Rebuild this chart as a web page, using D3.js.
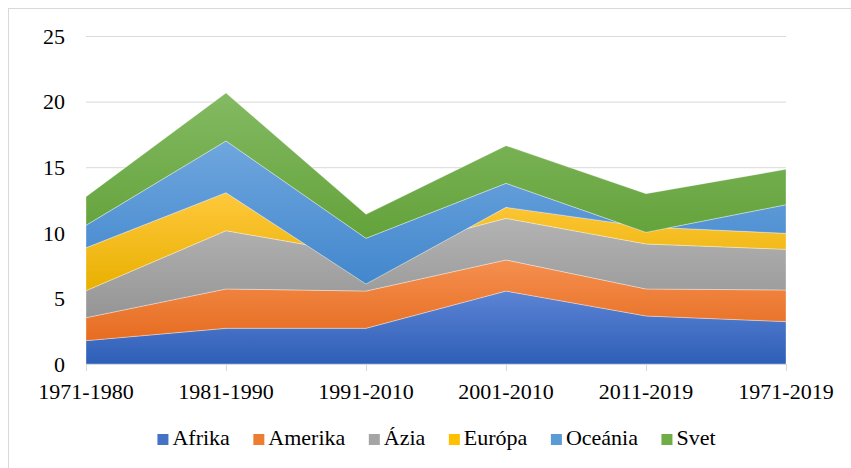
<!DOCTYPE html>
<html>
<head>
<meta charset="utf-8">
<script src="https://cdn.jsdelivr.net/npm/d3@7"></script>
<style>
    html, body { margin: 0; padding: 0; background: #fff; }
    svg { display: block; }
</style>
</head>
<body>
<svg id="chart" width="851" height="468" font-family="Liberation Serif"></svg>
<script>
const categories = ['1971-1980', '1981-1990', '1991-2010', '2001-2010', '2011-2019', '1971-2019'];
const seriesNames = ['Afrika', 'Amerika', 'Ázia', 'Európa', 'Oceánia', 'Svet'];

const afrika = [1.78, 2.72, 2.72, 5.56, 3.66, 3.23];
const amerika = [1.75, 3.00, 2.84, 2.37, 2.06, 2.41];
const azia = [2.06, 4.44, 2.74, 3.17, 3.43, 3.10];
const europa = [3.27, 2.90, -2.20, 0.84, 1.30, 1.22];
const oceania = [1.71, 3.94, 3.48, 1.83, -0.41, 2.18];
const svet = [2.18, 3.66, 1.83, 2.87, 2.94, 2.70];

const yTicks = [0, 5, 10, 15, 20, 25];

// gradient colours per series: [top, bottom]
const colors = [
    ['#5c84d4', '#2e5eb7'],
    ['#f58f4f', '#e66c20'],
    ['#b3b3b3', '#959595'],
    ['#ffc83c', '#e8b000'],
    ['#6fa6de', '#4287cd'],
    ['#84ba63', '#63a23a'],
];
const swatch = ['#4472c4', '#ed7d31', '#a5a5a5', '#ffc000', '#5b9bd5', '#70ad47'];
const FONT = 'Liberation Serif';

const values = [afrika, amerika, azia, europa, oceania, svet];
const table = categories.map((cat, i) => {
    const row = { cat };
    seriesNames.forEach((name, s) => { row[name] = values[s][i]; });
    return row;
});

const svg = d3.select('#chart');

svg.append('rect')
    .attr('x', 8.5).attr('y', 8.5)
    .attr('width', 850).attr('height', 470)
    .attr('fill', '#fff')
    .attr('stroke', '#d9d9d9');

const x = d3.scalePoint().domain(categories).range([86, 786]);
const y = d3.scaleLinear().domain([0, 25]).range([364, 36]);

// gridlines
svg.append('g')
    .selectAll('line')
    .data(yTicks.filter((t) => t > 0))
    .enter()
    .append('line')
    .attr('x1', 86).attr('x2', 786)
    .attr('y1', (d) => y(d) + 0.5).attr('y2', (d) => y(d) + 0.5)
    .attr('stroke', '#d9d9d9');

const defs = svg.append('defs');
colors.forEach(([top, bottom], i) => {
    const grad = defs.append('linearGradient')
        .attr('id', `grad${i}`)
        .attr('x1', 0).attr('y1', 0).attr('x2', 0).attr('y2', 1);
    grad.append('stop').attr('offset', '0%').attr('stop-color', top);
    grad.append('stop').attr('offset', '100%').attr('stop-color', bottom);
});

const stack = d3.stack().keys(seriesNames).offset(d3.stackOffsetNone);
const layers = stack(table);

const area = d3.area()
    .x((d) => x(d.data.cat))
    .y0((d) => y(d[0]))
    .y1((d) => y(d[1]));

svg.append('g')
    .selectAll('path')
    .data(layers)
    .enter()
    .append('path')
    .attr('d', area)
    .attr('fill', (d, i) => `url(#grad${i})`)
    .attr('stroke', '#fff')
    .attr('stroke-opacity', 0.45)
    .attr('stroke-width', 0.75);

// x axis line and ticks
svg.append('line')
    .attr('x1', 86).attr('x2', 786)
    .attr('y1', 364.5).attr('y2', 364.5)
    .attr('stroke', '#d9d9d9');

svg.append('g')
    .selectAll('line')
    .data(categories)
    .enter()
    .append('line')
    .attr('x1', (d) => x(d) + 0.5).attr('x2', (d) => x(d) + 0.5)
    .attr('y1', 364).attr('y2', 371)
    .attr('stroke', '#d9d9d9');

svg.append('g')
    .selectAll('text')
    .data(categories)
    .enter()
    .append('text')
    .attr('x', (d) => x(d))
    .attr('y', 399)
    .attr('text-anchor', 'middle')
    .attr('font-family', FONT)
    .attr('font-size', 22)
    .attr('fill', '#000')
    .text((d) => d);

// y labels
svg.append('g')
    .selectAll('text')
    .data(yTicks)
    .enter()
    .append('text')
    .attr('x', 65)
    .attr('y', (d) => y(d))
    .attr('dy', '0.35em')
    .attr('text-anchor', 'end')
    .attr('font-family', FONT)
    .attr('font-size', 22)
    .attr('fill', '#000')
    .text((d) => d);

// legend
const gap = 23.5;
const legend = svg.append('g');
let lx = 0;
seriesNames.forEach((name, i) => {
    const g = legend.append('g');
    g.append('rect')
        .attr('x', 0).attr('y', 434)
        .attr('width', 11).attr('height', 11)
        .attr('fill', swatch[i]);
    const t = g.append('text')
        .attr('x', 15).attr('y', 445)
        .attr('font-family', FONT)
        .attr('font-size', 22)
        .attr('fill', '#000')
        .text(name);
    const w = 15 + t.node().getComputedTextLength();
    g.attr('transform', `translate(${lx},0)`);
    lx += w + gap;
});
const total = lx - gap;
legend.attr('transform', `translate(${436.5 - total / 2},0)`);
</script>
</body>
</html>
